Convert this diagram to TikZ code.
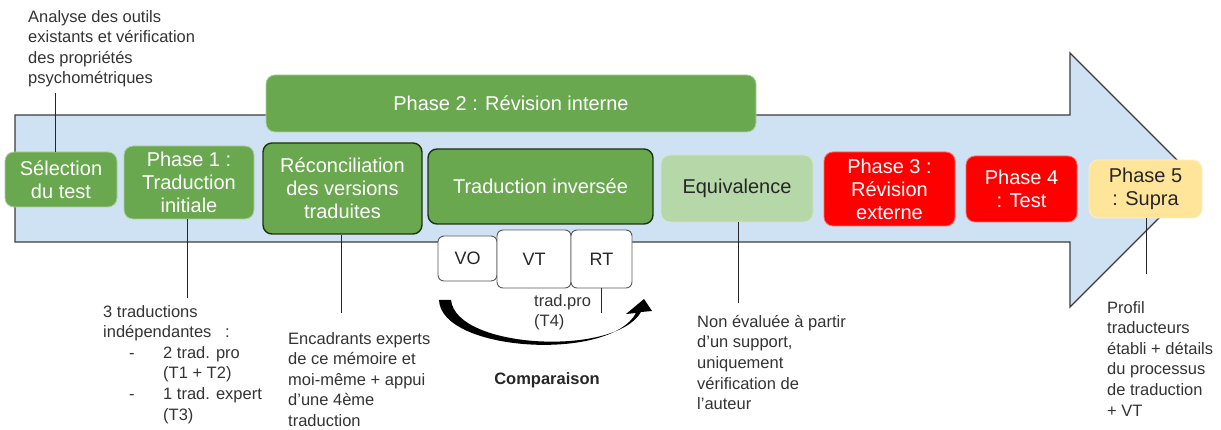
\documentclass[tikz,border=0pt]{standalone}
\usepackage{fontspec}
\setmainfont{Liberation Sans}
\usetikzlibrary{arrows.meta}
\definecolor{gfill}{HTML}{6AA84F}
\definecolor{gdark}{HTML}{1E3311}
\definecolor{glight}{HTML}{B6D7A8}
\definecolor{rfill}{HTML}{FF0000}
\definecolor{yfill}{HTML}{FFE599}
\definecolor{afill}{HTML}{CFE2F3}
\definecolor{aline}{HTML}{3C3C3C}
\definecolor{tgray}{HTML}{333333}
\definecolor{tdark}{HTML}{262626}
\begin{document}
\begin{tikzpicture}[x=1pt,y=-1pt,
  boxbase/.style={rounded corners=9pt, inner sep=0pt, align=center,
    font=\fontsize{20}{23}\selectfont},
  gbox/.style={boxbase, fill=gfill, draw=gfill!55!white, line width=0.8pt, text=white},
  dbox/.style={boxbase, fill=gfill, draw=gdark, line width=1.4pt, text=white},
  ebox/.style={boxbase, fill=glight, draw=glight!60!white, line width=0.8pt, text=tdark},
  rbox/.style={boxbase, fill=rfill, draw=rfill!60!white, line width=0.8pt, text=white},
  ybox/.style={boxbase, fill=yfill, draw=yfill!60!white, line width=0.8pt, text=tdark},
  sbox/.style={rounded corners=6pt, inner sep=0pt, fill=white, draw=black!65,
    line width=0.9pt, font=\fontsize{18}{20}\selectfont, text=tdark},
  annot/.style={anchor=north west, inner sep=0pt, align=left, text=tgray,
    font=\fontsize{16.5}{20.6}\selectfont},
  conn/.style={draw=black!85, line width=0.9pt}
]
\useasboundingbox (0,0) rectangle (1221,430);
% big arrow
\path[fill=afill, draw=aline, line width=1.2pt]
  (15,115) -- (1070,115) -- (1070,53) -- (1197,180) -- (1070,307) -- (1070,242)
  -- (15,242) -- cycle;
% boxes
\node[gbox, minimum width=490pt, minimum height=57pt] (ph2) at (511,103.5) {Phase 2 : Révision interne};
\node[gbox, minimum width=112pt, minimum height=55pt] (sel) at (61,179.5) {Sélection\\du test};
\node[gbox, minimum width=130pt, minimum height=73pt] (ph1) at (189,182.5) {Phase 1 :\\Traduction\\initiale};
\node[dbox, minimum width=159pt, minimum height=91pt] (rec) at (342.5,188.5) {Réconciliation\\des versions\\traduites};
\node[dbox, minimum width=225pt, minimum height=75pt] (inv) at (540.5,186.5) {Traduction inversée};
\node[ebox, minimum width=152pt, minimum height=67pt] (eqv) at (737,188.5) {Equivalence};
\node[rbox, minimum width=131pt, minimum height=74pt] (ph3) at (889.5,189) {Phase 3 :\\Révision\\externe};
\node[rbox, minimum width=111pt, minimum height=66pt] (ph4) at (1021.5,189) {Phase 4\\: Test};
\node[ybox, minimum width=113pt, minimum height=58pt] (ph5) at (1145.5,189) {Phase 5\\: Supra};
% small boxes
\node[sbox, minimum width=59pt, minimum height=45pt] (vo) at (467.5,258.5) {VO};
\node[sbox, minimum width=74pt, minimum height=58pt] (vt) at (534,259) {VT};
\node[sbox, minimum width=61pt, minimum height=58pt] (rt) at (601.5,259) {RT};
% annotations
\node[annot] (ana) at (28,10) {Analyse des outils\\existants et vérification\\des propriétés\\psychométriques};
\node[annot] (tr3) at (103,305) {3 traductions\\indépendantes\hspace{9pt} :\\\makebox[60pt][l]{\hspace*{26pt}-}2 trad. pro\\\hspace*{60pt}(T1 + T2)\\\makebox[60pt][l]{\hspace*{26pt}-}1 trad. expert\\\hspace*{60pt}(T3)};
\node[annot] (enc) at (288,332) {Encadrants experts\\de ce mémoire et\\moi-même + appui\\d’une 4ème\\traduction};
\node[annot] (non) at (697,315) {Non évaluée à partir\\d’un support,\\uniquement\\vérification de\\l’auteur};
\node[annot] (pro) at (1107,301) {Profil\\traducteurs\\établi + détails\\du processus\\de traduction\\+ VT};
\node[annot] (tp) at (534,294) {trad.pro\\(T4)};
\node[anchor=center, inner sep=0pt, text=tdark, font=\fontsize{16.5}{20}\selectfont\bfseries] (cmp) at (547,380) {Comparaison};
% connector end points
\coordinate (c0) at (55,93);
\coordinate (c1) at (187,298);
\coordinate (c2) at (341,313);
\coordinate (c3) at (738,303);
\coordinate (c4) at (1146,274);
\coordinate (c5) at (601,313);
\draw[conn] (sel.north -| c0) -- (c0);
\draw[conn] (ph1.south -| c1) -- (c1);
\draw[conn] (rec.south -| c2) -- (c2);
\draw[conn] (eqv.south -| c3) -- (c3);
\draw[conn] (ph5.south -| c4) -- (c4);
\draw[conn] (rt.south -| c5) -- (c5);
% curved comparison arrow
\fill[black] (439,300) .. controls (441,352) and (610,362) .. (636,313)
  -- (626,314) -- (644,299) -- (652,311) -- (641,312)
  .. controls (615,357) and (456,349) .. (451,300) -- cycle;
\end{tikzpicture}
\end{document}
